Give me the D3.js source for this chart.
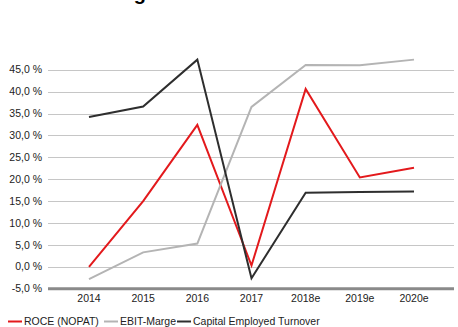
<!DOCTYPE html>
<html>
<head>
<meta charset="utf-8">
<script src="https://cdn.jsdelivr.net/npm/d3@7"></script>
<style>
  body { margin: 0; background: #fff; }
  svg { display: block; font-family: "Liberation Sans", Arial, sans-serif; }
</style>
</head>
<body>
<svg id="chart" width="458" height="327"></svg>
<script>
// Data
const years = ["2014", "2015", "2016", "2017", "2018e", "2019e", "2020e"];
const roce = [0.0, 15.0, 32.4, 0.3, 40.6, 20.4, 22.6];
const ebitMarge = [-2.8, 3.3, 5.3, 36.5, 46.1, 46.0, 47.3];
const ceTurnover = [34.2, 36.6, 47.3, -2.6, 16.9, 17.1, 17.2];
const yTicks = [-5, 0, 5, 10, 15, 20, 25, 30, 35, 40, 45];
const seriesNames = ["ROCE (NOPAT)", "EBIT-Marge", "Capital Employed Turnover"];
const seriesColors = ["#e3191c", "#b4b4b4", "#2e2e2e"];

const svg = d3.select("#chart");
const plotLeft = 48, plotRight = 454;

// Scales
const x = d3.scalePoint()
  .domain(years)
  .range([89, 414]);

const y = d3.scaleLinear()
  .domain([-5, 45])
  .range([288.7, 69.7]);

const fmt = v => v.toFixed(1).replace(".", ",") + " %";

// Title (mostly cut off at top of the picture)
svg.append("text")
  .attr("x", 146)
  .attr("y", -0.5)
  .attr("text-anchor", "end")
  .attr("font-size", "20px")
  .attr("font-weight", "bold")
  .attr("fill", "#000")
  .text("Entwicklung");

// Horizontal grid lines
svg.append("g")
  .selectAll("line")
  .data(yTicks.filter(d => d !== -5))
  .enter()
  .append("line")
  .attr("x1", plotLeft)
  .attr("x2", plotRight)
  .attr("y1", d => Math.round(y(d)) + 0.5)
  .attr("y2", d => Math.round(y(d)) + 0.5)
  .attr("stroke", "#c6c6c6")
  .attr("stroke-width", 1);

// Y axis labels
svg.append("g")
  .selectAll("text")
  .data(yTicks)
  .enter()
  .append("text")
  .attr("x", 42)
  .attr("y", d => y(d))
  .attr("dy", "0.35em")
  .attr("text-anchor", "end")
  .attr("font-size", "10.5px")
  .attr("fill", "#222")
  .text(d => fmt(d));

// X axis (thick gray base line)
svg.append("line")
  .attr("x1", plotLeft)
  .attr("x2", plotRight)
  .attr("y1", y(-5))
  .attr("y2", y(-5))
  .attr("stroke", "#8a8a8a")
  .attr("stroke-width", 3);

svg.append("g")
  .selectAll("text")
  .data(years)
  .enter()
  .append("text")
  .attr("x", d => x(d))
  .attr("y", 302)
  .attr("text-anchor", "middle")
  .attr("font-size", "10.5px")
  .attr("fill", "#222")
  .text(d => d);

// Lines
const line = d3.line()
  .x((d, i) => x(years[i]))
  .y(d => y(d));

[roce, ebitMarge, ceTurnover].forEach((values, i) => {
  svg.append("path")
    .datum(values)
    .attr("fill", "none")
    .attr("stroke", seriesColors[i])
    .attr("stroke-width", 2)
    .attr("stroke-linejoin", "miter")
    .attr("d", line);
});

// Legend
const legendX = [8, 104, 177];
const legend = svg.append("g");
seriesNames.forEach((name, i) => {
  legend.append("line")
    .attr("x1", legendX[i])
    .attr("x2", legendX[i] + 14)
    .attr("y1", 321.5)
    .attr("y2", 321.5)
    .attr("stroke", seriesColors[i])
    .attr("stroke-width", 2);
  legend.append("text")
    .attr("x", legendX[i] + 16)
    .attr("y", 321.5)
    .attr("dy", "0.35em")
    .attr("font-size", "10.5px")
    .attr("fill", "#222")
    .text(name);
});
</script>
</body>
</html>
